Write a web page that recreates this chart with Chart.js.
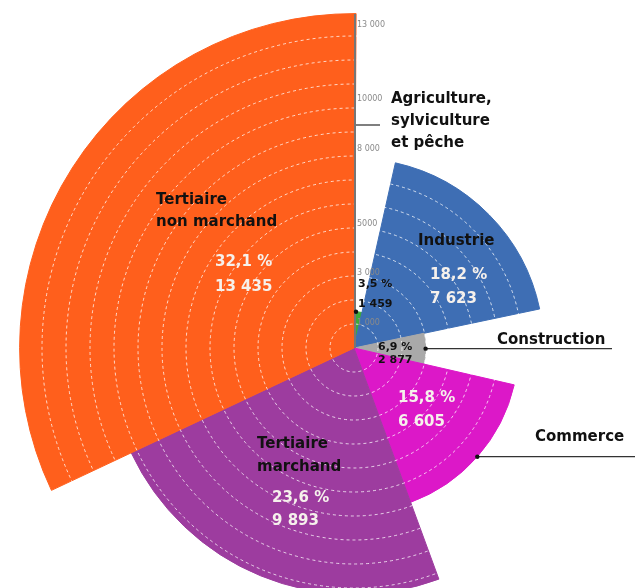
<!DOCTYPE html>
<html>
<head>
<meta charset="utf-8">
<script src="https://cdn.jsdelivr.net/npm/chart.js@4/dist/chart.umd.min.js"></script>
<style>
html, body { margin: 0; padding: 0; background: #fff; overflow: hidden; }
#wrap { position: relative; width: 635px; height: 588px; overflow: hidden; }
#secteurs { position: absolute; left: 0; top: 0; }
</style>
</head>
<body>
<div id="wrap"><canvas id="secteurs" width="700" height="700"></canvas></div>
<script>
// Emplois par grand secteur (effectifs et part en %)
const secteurs = ['Agriculture, sylviculture et pêche', 'Industrie', 'Construction', 'Commerce', 'Tertiaire marchand', 'Tertiaire non marchand'];
const effectifs = [1459, 7623, 2877, 6605, 9893, 13435];
const parts = [3.5, 18.2, 6.9, 15.8, 23.6, 32.1];
const couleurs = ['#3daa3a', '#3e6eb4', '#a9a9a9', '#dc18c8', '#9d3c9f', '#ff5f1c'];

// Graduations de l'axe vertical
const graduations = [1000, 3000, 5000, 8000, 10000, 13000];
const graduationLabels = ['1 000', '3 000', '5000', '8 000', '10000', '13 000'];

// Libellés des secteurs, ligne par ligne
const nomLignes = [
    ['Agriculture,', 'sylviculture', 'et pêche'],
    ['Industrie'],
    ['Construction'],
    ['Commerce'],
    ['Tertiaire', 'marchand'],
    ['Tertiaire', 'non marchand']
];
// position du libellé [x, y, interligne]
const nomPos = [[391, 99, 22], [418, 241, 0], [497, 340, 0], [535, 437, 0], [257, 444, 23], [156, 200, 22]];
// position des valeurs [x, y du %, y de l'effectif]
const valPos = [[358, 284, 304], [430, 275, 299], [378, 347, 360], [398, 398, 422], [272, 498, 521], [215, 262, 287]];
const petitesValeurs = [true, false, true, false, false, false];

const FONT = '"DejaVu Sans", sans-serif';

function fmtPart(p) {
    return p.toFixed(1).replace('.', ',') + ' %';
}

function fmtEffectif(n) {
    return String(n).replace(/\B(?=(\d{3})+(?!\d))/g, ' ');
}

const etiquettes = {
    id: 'etiquettes',
    afterDraw(chart) {
        const ctx = chart.ctx;
        const r = chart.scales.r;
        const cx = r.xCenter;
        const cy = r.yCenter;
        const arcs = chart.getDatasetMeta(0).data;

        ctx.save();

        // axe vertical
        ctx.strokeStyle = '#767676';
        ctx.lineWidth = 2;
        ctx.beginPath();
        ctx.moveTo(cx + 1, cy);
        ctx.lineTo(cx + 1, cy - r.drawingArea + 2);
        ctx.stroke();

        ctx.font = '8px ' + FONT;
        ctx.fillStyle = '#8a8a8a';
        ctx.textAlign = 'left';
        ctx.textBaseline = 'middle';
        graduations.forEach((v, i) => {
            ctx.fillText(graduationLabels[i], cx + 3, cy - r.getDistanceFromCenterForValue(v));
        });

        // traits de rappel
        ctx.strokeStyle = '#555';
        ctx.lineWidth = 1.5;
        ctx.beginPath();
        ctx.moveTo(cx + 2, 125);
        ctx.lineTo(cx + 26, 125);
        ctx.stroke();

        const agri = arcs[0].getProps(['x', 'y', 'outerRadius'], true);
        ctx.fillStyle = '#111';
        ctx.beginPath();
        ctx.arc(agri.x + 2, agri.y - agri.outerRadius, 2.2, 0, Math.PI * 2);
        ctx.fill();

        [[2, 612], [3, 640]].forEach(([idx, xEnd]) => {
            const a = arcs[idx].getProps(['x', 'y', 'startAngle', 'endAngle', 'outerRadius'], true);
            const mid = (a.startAngle + a.endAngle) / 2;
            const px = a.x + Math.cos(mid) * a.outerRadius;
            const py = a.y + Math.sin(mid) * a.outerRadius;
            ctx.strokeStyle = '#333';
            ctx.lineWidth = 1.3;
            ctx.beginPath();
            ctx.moveTo(px, py);
            ctx.lineTo(xEnd, py);
            ctx.stroke();
            ctx.fillStyle = '#111';
            ctx.beginPath();
            ctx.arc(px, py, 2.2, 0, Math.PI * 2);
            ctx.fill();
        });

        // libellés
        ctx.textAlign = 'left';
        ctx.textBaseline = 'middle';
        nomLignes.forEach((lignes, i) => {
            const [x, y, lh] = nomPos[i];
            ctx.font = 'bold 15px ' + FONT;
            ctx.fillStyle = '#111';
            lignes.forEach((t, k) => ctx.fillText(t, x, y + k * lh));

            const [vx, vy1, vy2] = valPos[i];
            if (petitesValeurs[i]) {
                ctx.font = 'bold 11px ' + FONT;
                ctx.fillStyle = '#111';
            } else {
                ctx.font = 'bold 15px ' + FONT;
                ctx.fillStyle = '#f6f1ec';
            }
            ctx.fillText(fmtPart(parts[i]), vx, vy1);
            ctx.fillText(fmtEffectif(effectifs[i]), vx, vy2);
        });

        ctx.restore();
    }
};

new Chart(document.getElementById('secteurs'), {
    type: 'polarArea',
    data: {
        labels: secteurs,
        datasets: [{
            data: effectifs,
            angle: parts.map(p => p * 3.6),
            backgroundColor: couleurs,
            borderColor: couleurs,
            borderWidth: 1
        }]
    },
    options: {
        responsive: false,
        animation: false,
        devicePixelRatio: 1,
        layout: { padding: { left: 18, top: 12, right: 10, bottom: 16 } },
        plugins: {
            legend: { display: false },
            tooltip: { enabled: false }
        },
        scales: {
            r: {
                min: 0,
                max: 13500,
                startAngle: 0,
                ticks: { display: false, stepSize: 1000 },
                grid: { circular: true, color: 'rgba(255,255,255,0.75)', lineWidth: 1, z: 1 },
                border: { dash: [3, 3] },
                angleLines: { display: false },
                pointLabels: { display: false }
            }
        }
    },
    plugins: [etiquettes]
});
</script>
</body>
</html>
